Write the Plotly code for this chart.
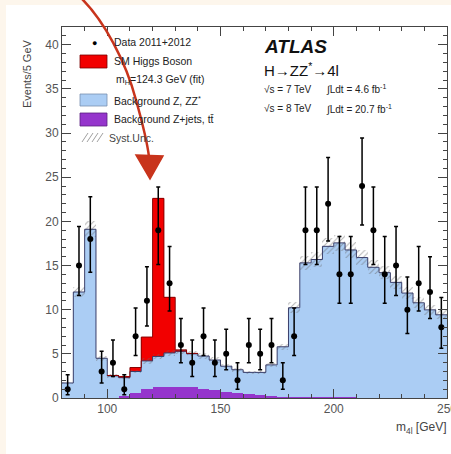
import math
import plotly.graph_objects as go

# ---------------- data ----------------
bin_low = list(range(80, 250, 5))          # 5 GeV bins, 80-250 GeV
bin_width = 5

data_counts = [1, 15, 18, 3, 4, 1, 7, 11, 19, 13,
               6, 4, 7, 4, 5, 2, 6, 5, 6, 2,
               7, 19, 19, 22, 14, 14, 24, 19, 14, 15,
               10, 13, 12, 8]

bkg_zz = [1.7, 12.0, 19.1, 4.5, 2.45, 2.1, 2.4, 3.2, 3.5, 3.8,
          4.0, 3.8, 3.7, 3.45, 2.9, 2.65, 2.5, 2.6, 3.55, 5.65,
          10.1, 15.2, 15.6, 17.1, 17.5, 16.7, 15.85, 14.75, 14.15, 13.05,
          11.85, 10.75, 9.95, 9.4]

bkg_zjets = [0, 0, 0, 0, 0.05, 0.2, 0.6, 1.0, 1.2, 1.3,
             1.3, 1.2, 1.05, 0.85, 0.7, 0.55, 0.4, 0.3, 0.2, 0.15,
             0.12, 0.1, 0.08, 0.07, 0.06, 0.06, 0.05, 0.05, 0.04, 0.04,
             0.03, 0.03, 0.03, 0.02]

signal = [0, 0, 0, 0, 0.05, 0.1, 0.45, 2.7, 17.9, 6.3,
          0.15, 0.05, 0, 0, 0, 0, 0, 0, 0, 0,
          0, 0, 0, 0, 0, 0, 0, 0, 0, 0,
          0, 0, 0, 0]

syst_unc = [0.1, 0.6, 0.9, 0.3, 0.2, 0.2, 0.2, 0.3, 0.3, 0.3,
            0.3, 0.3, 0.3, 0.3, 0.25, 0.2, 0.2, 0.2, 0.25, 0.35,
            0.6, 0.8, 0.8, 0.9, 0.9, 0.9, 0.85, 0.8, 0.75, 0.7,
            0.65, 0.6, 0.55, 0.5]

x_ticks = [100, 150, 200, 250]

# ---------------- derived quantities ----------------
centers = [b + bin_width / 2 for b in bin_low]
edges = bin_low + [bin_low[-1] + bin_width]
bkg_total = [a + b for a, b in zip(bkg_zz, bkg_zjets)]
sig_total = [t + s for t, s in zip(bkg_total, signal)]
err_up = [0.5 + math.sqrt(n + 0.25) for n in data_counts]
err_dn = [-0.5 + math.sqrt(n + 0.25) for n in data_counts]

C_BLUE = "#abcdf4"
C_RED = "#f20000"
C_PURPLE = "#9535cc"
C_ARROW = "#c8341c"
FONT = "Liberation Sans, Arial, sans-serif"

fig = go.Figure()

fig.add_trace(go.Bar(x=centers, y=bkg_zjets, base=[0] * len(bin_low), width=bin_width,
                     marker=dict(color=C_PURPLE, line=dict(width=0)), showlegend=False))
fig.add_trace(go.Bar(x=centers, y=bkg_zz, base=bkg_zjets, width=bin_width,
                     marker=dict(color=C_BLUE, line=dict(width=0)), showlegend=False))
fig.add_trace(go.Bar(x=centers, y=signal, base=bkg_total, width=bin_width,
                     marker=dict(color=C_RED, line=dict(width=0)), showlegend=False))
fig.add_trace(go.Bar(x=centers, y=[2 * u for u in syst_unc],
                     base=[t - u for t, u in zip(bkg_total, syst_unc)], width=bin_width,
                     marker=dict(color="rgba(0,0,0,0)", line=dict(width=0),
                                 pattern=dict(shape="/", fgcolor="#666666", bgcolor="rgba(0,0,0,0)",
                                              size=4, solidity=0.25)),
                     showlegend=False))

fig.add_trace(go.Scatter(x=edges, y=bkg_total + [bkg_total[-1]], mode="lines",
                         line=dict(shape="hv", color="#3a3f6a", width=1), showlegend=False,
                         hoverinfo="skip"))
sig_idx = [i for i, s in enumerate(signal) if s > 0]
i0, i1 = sig_idx[0], sig_idx[-1]
fig.add_trace(go.Scatter(x=edges[i0:i1 + 2], y=sig_total[i0:i1 + 1] + [sig_total[i1]], mode="lines",
                         line=dict(shape="hv", color="#8a0000", width=1), showlegend=False,
                         hoverinfo="skip"))

fig.add_trace(go.Scatter(x=centers, y=data_counts, mode="markers",
                         marker=dict(color="black", size=6),
                         error_y=dict(type="data", symmetric=False, array=err_up, arrayminus=err_dn,
                                      color="black", thickness=1.5, width=2),
                         showlegend=False))

# ---------------- pixel helpers for decorations ----------------
L, R, T, B = 62, 447, 27, 398


def px(x):
    return (x - L) / (R - L)


def py(y):
    return (B - y) / (B - T)


shapes = []
shapes.append(dict(type="rect", xref="paper", yref="paper", x0=px(6), x1=px(451), y0=py(5), y1=py(454),
                   fillcolor="white", line=dict(width=0), layer="below"))


def box(x0, y0, x1, y1, fill, line="#333333"):
    shapes.append(dict(type="rect", xref="paper", yref="paper", x0=px(x0), x1=px(x1), y0=py(y1), y1=py(y0),
                       fillcolor=fill, line=dict(color=line, width=0.8)))


box(80, 55, 107, 68, C_RED, "#7a0000")
box(80, 94, 107, 106, C_BLUE, "#7890b0")
box(80, 113, 107, 126, C_PURPLE, "#5a2080")
for k in range(4):
    xa = 82 + k * 5
    shapes.append(dict(type="line", xref="paper", yref="paper", x0=px(xa), y0=py(142), x1=px(xa + 6), y1=py(133),
                       line=dict(color="#888888", width=0.8)))

path = "M {:.4f} {:.4f} C {:.4f} {:.4f} {:.4f} {:.4f} {:.4f} {:.4f} C {:.4f} {:.4f} {:.4f} {:.4f} {:.4f} {:.4f}".format(
    px(80), py(-3), px(104), py(20), px(126), py(62), px(136), py(100),
    px(143), py(125), px(147), py(140), px(149), py(157))
shapes.append(dict(type="path", xref="paper", yref="paper", path=path,
                   line=dict(color=C_ARROW, width=2.5)))
head = "M {:.4f} {:.4f} L {:.4f} {:.4f} L {:.4f} {:.4f} Z".format(
    px(136), py(155), px(163), py(156), px(150), py(179))
shapes.append(dict(type="path", xref="paper", yref="paper", path=head,
                   fillcolor=C_ARROW, line=dict(color=C_ARROW, width=1.5)))

annotations = []


def text(x, y, s, size=10, anchor="left", color="#222222", angle=0):
    annotations.append(dict(x=px(x), y=py(y), xref="paper", yref="paper", text=s, showarrow=False,
                            xanchor=anchor, yanchor="middle", textangle=angle,
                            font=dict(size=size, color=color, family=FONT)))


annotations.append(dict(x=px(94), y=py(42), xref="paper", yref="paper", text="●", showarrow=False,
                        xanchor="center", yanchor="middle", font=dict(size=9, color="black")))
LS = 10.5
text(112, 42, "Data 2011+2012", LS)
text(112, 61, "SM Higgs Boson", LS)
text(114, 80, "m<sub>H</sub>=124.3 GeV (fit)", LS)
text(112, 100, "Background Z, ZZ<sup>*</sup>", LS)
text(112, 119, "Background Z+jets, tt\u0304", LS)
text(107, 138, "Syst.Unc.", LS, color="#444444")

text(262, 46, "<b><i>ATLAS</i></b>", 19, color="#111111")
text(262, 69, "H→ZZ<sup>*</sup>→4l", 15, color="#111111")
text(262, 89, "√s = 7 TeV", 10, color="#222222")
text(324, 89, "∫Ldt = 4.6 fb<sup>-1</sup>", 10, color="#222222")
text(262, 109, "√s = 8 TeV", 10, color="#222222")
text(324, 109, "∫Ldt = 20.7 fb<sup>-1</sup>", 10, color="#222222")

annotations.append(dict(x=px(27), y=py(74), xref="paper", yref="paper", text="Events/5 GeV",
                        showarrow=False, textangle=-90, xanchor="center", yanchor="middle",
                        font=dict(size=11, color="#444444", family=FONT)))
annotations.append(dict(x=px(449), y=py(428), xref="paper", yref="paper", text="m<sub>4l</sub> [GeV]",
                        showarrow=False, xanchor="right", yanchor="middle",
                        font=dict(size=12, color="#444444", family=FONT)))

axis_common = dict(showline=True, linecolor="#444444", linewidth=1, mirror="allticks",
                   ticks="inside", tickcolor="#444444", showgrid=False, zeroline=False,
                   ticklabeloverflow="allow", automargin=False,
                   tickfont=dict(size=12, color="#555555", family=FONT))

fig.update_layout(
    width=451, height=454,
    margin=dict(l=L, r=451 - R, t=T, b=454 - B),
    paper_bgcolor="#fdf6ec",
    plot_bgcolor="white",
    barmode="overlay",
    bargap=0,
    shapes=shapes,
    annotations=annotations,
    xaxis=dict(range=[80, 250], tickvals=x_ticks, ticklen=9,
               minor=dict(dtick=10, tick0=80, ticklen=4, ticks="inside", tickcolor="#444444"),
               **axis_common),
    yaxis=dict(range=[0, 42], dtick=5, ticklen=9,
               minor=dict(dtick=1, ticklen=4, ticks="inside", tickcolor="#444444"),
               **axis_common),
)

fig.write_html("out.html")
